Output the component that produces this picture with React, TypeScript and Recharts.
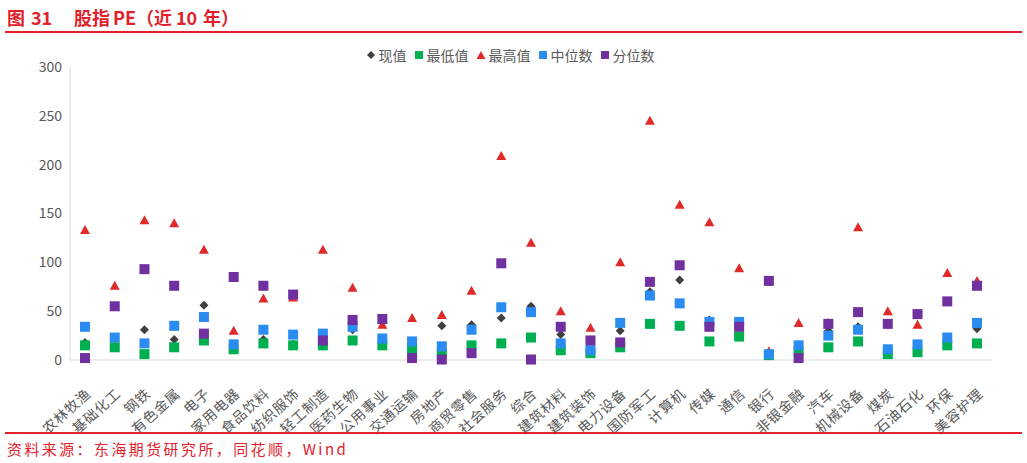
import { ComposedChart, Scatter, XAxis, YAxis } from "recharts";

const categories = [
  "农林牧渔", "基础化工", "钢铁", "有色金属", "电子", "家用电器", "食品饮料", "纺织服饰",
  "轻工制造", "医药生物", "公用事业", "交通运输", "房地产", "商贸零售", "社会服务", "综合",
  "建筑材料", "建筑装饰", "电力设备", "国防军工", "计算机", "传媒", "通信", "银行",
  "非银金融", "汽车", "机械设备", "煤炭", "石油石化", "环保", "美容护理",
];
const nowValues = [18, 14, 31, 21, 56, 12, 21, 16, 18, 31, 18, 11, 35, 36, 43, 55, 26, 10, 30, 70, 82, 41, 36, 7, 15, 30, 34, 10, 11, 18, 32];
const minValues = [15, 13, 6, 13, 20, 11, 17, 15, 15, 20, 15, 10, 7, 15, 17, 23, 10, 7, 13, 37, 35, 19, 24, 5, 9, 13, 19, 6, 8, 15, 17];
const maxValues = [133, 76, 143, 140, 113, 30, 63, 64, 113, 74, 36, 43, 46, 71, 209, 120, 50, 33, 100, 245, 159, 141, 94, 9, 38, 38, 136, 50, 36, 89, 81];
const medianValues = [34, 23, 17, 35, 44, 16, 31, 26, 27, 34, 22, 19, 14, 31, 54, 49, 17, 10, 38, 66, 58, 39, 39, 6, 15, 25, 31, 11, 16, 23, 38];
const pctValues = [2, 55, 93, 76, 27, 85, 76, 67, 20, 41, 42, 2, 0.5, 7, 99, 0.5, 34, 20, 18, 80, 97, 34, 34, 81, 2, 37, 49, 37, 47, 60, 76];
const yTicks = [0, 50, 100, 150, 200, 250, 300];

const data = categories.map((name, i) => ({
  name,
  now: nowValues[i],
  min: minValues[i],
  max: maxValues[i],
  median: medianValues[i],
  pct: pctValues[i],
}));

const RED = "#E3212B";
const FONT = "'Noto Sans CJK SC', 'Microsoft YaHei', sans-serif";

const square = (color: string) => (p: any) => (
  <rect x={p.cx - 5} y={p.cy - 5} width={10} height={10} fill={color} />
);
const triangle = (color: string) => (p: any) => (
  <polygon points={`${p.cx},${p.cy - 5} ${p.cx + 5},${p.cy + 4} ${p.cx - 5},${p.cy + 4}`} fill={color} />
);
const diamond = (color: string) => (p: any) => (
  <polygon points={`${p.cx},${p.cy - 4.5} ${p.cx + 4.5},${p.cy} ${p.cx},${p.cy + 4.5} ${p.cx - 4.5},${p.cy}`} fill={color} />
);

const series = [
  { key: "now", label: "现值", color: "#404040", shape: diamond },
  { key: "min", label: "最低值", color: "#00B050", shape: square },
  { key: "max", label: "最高值", color: "#E02A2A", shape: triangle },
  { key: "median", label: "中位数", color: "#2A8CF0", shape: square },
  { key: "pct", label: "分位数", color: "#7030A0", shape: square },
];

const legendIcon = (key: string, color: string) => {
  if (key === "now") return <polygon points="5,1 9,5 5,9 1,5" fill={color} />;
  if (key === "max") return <polygon points="5,1 9.5,9 0.5,9" fill={color} />;
  return <rect x={1} y={1} width={8} height={8} fill={color} />;
};

// title pieces laid out like the original report header
const titleParts: [string, number][] = [
  ["图", 7], ["31", 31], ["股指", 74], ["PE", 113], ["（近", 136], ["10", 176], ["年）", 203],
];

const XTick = ({ x, y, payload }: any) => (
  <g transform={`translate(${x + 7},${y + 27})`}>
    <text x={0} y={0} textAnchor="end" transform="rotate(-42)" fill="#595959" fontSize={14} letterSpacing={0.8} fontFamily={FONT}>
      {payload.value}
    </text>
  </g>
);

export default function App() {
  return (
    <div style={{ position: "absolute", left: 0, top: 0, width: 1027, height: 463, background: "#fff" }}>
      {titleParts.map(([t, left]) => (
        <span key={t} style={{ position: "absolute", left, top: 4, fontFamily: FONT, fontWeight: 700, fontSize: 18, color: RED, whiteSpace: "pre" }}>
          {t}
        </span>
      ))}
      <div style={{ position: "absolute", left: 5, top: 31, width: 1017, height: 2, background: RED }} />
      <div style={{ position: "absolute", left: 0, top: 45, width: 1027, display: "flex", justifyContent: "center", fontFamily: FONT, fontSize: 14, color: "#595959" }}>
        {series.map((s) => (
          <span key={s.key} style={{ display: "inline-flex", alignItems: "center", marginRight: 7 }}>
            <svg width={10} height={10} style={{ marginRight: 3 }}>
              {legendIcon(s.key, s.color)}
            </svg>
            {s.label}
          </span>
        ))}
      </div>
      <ComposedChart
        width={1027}
        height={463}
        data={data}
        margin={{ top: 67, right: 35, left: 8, bottom: 33 }}
        style={{ position: "absolute", left: 0, top: 0 }}
      >
        <XAxis
          dataKey="name"
          type="category"
          scale="point"
          padding={{ left: 15, right: 15 }}
          interval={0}
          tickLine={false}
          axisLine={{ stroke: "#D9D9D9" }}
          tick={<XTick />}
          height={70}
        />
        <YAxis
          type="number"
          domain={[0, 300]}
          ticks={yTicks}
          tickLine={false}
          axisLine={{ stroke: "#D9D9D9" }}
          tick={{ fill: "#595959", fontSize: 14, fontFamily: FONT }}
          width={62}
        />
        {series.map((s) => (
          <Scatter
            key={s.key}
            name={s.label}
            dataKey={s.key}
            fill={s.color}
            shape={s.shape(s.color)}
            isAnimationActive={false}
          />
        ))}
      </ComposedChart>
      <div style={{ position: "absolute", left: 5, top: 432, width: 1017, height: 2, background: RED }} />
      <div style={{ position: "absolute", left: 7, top: 438, fontFamily: FONT, fontSize: 15, letterSpacing: 2.4, color: RED, whiteSpace: "pre" }}>
        资料来源：东海期货研究所，同花顺，Wind
      </div>
    </div>
  );
}
